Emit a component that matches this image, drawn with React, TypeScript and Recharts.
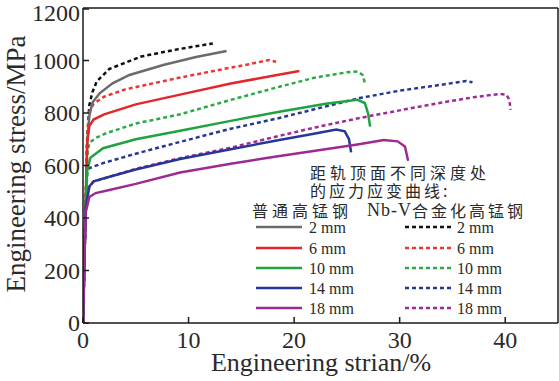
import { Customized, Line, LineChart, ReferenceLine, XAxis, YAxis } from "recharts";

const SERIF = "'Liberation Serif', 'Times New Roman', serif";
const CJK = "'Noto Sans CJK SC', sans-serif";
const AXIS = "#1a1a1a";
const TEXT = "#2a2a2a";

const xTicks = [0, 10, 20, 30, 40];
const yTicks = [0, 200, 400, 600, 800, 1000, 1200];
const depths = ["2 mm", "6 mm", "10 mm", "14 mm", "18 mm"];
const colors = ["#6b6b6b", "#e4262a", "#1fa23f", "#26379a", "#9c2a92"];
const dottedColors = ["#111111", "#ee3535", "#2aaa45", "#26379a", "#a02a95"];

// [strain %, stress MPa]
const normal2 = [[0, 0], [0.25, 450], [0.4, 680], [0.6, 790], [0.9, 840], [1.6, 876], [2.8, 913], [4.4, 945], [7.6, 983], [10.7, 1013], [13.6, 1036]];
const normal6 = [[0, 0], [0.25, 450], [0.4, 690], [0.6, 750], [1, 775], [2, 795], [5, 833], [9.2, 870], [14, 912], [18, 942], [20.5, 960]];
const normal10 = [[0, 0], [0.25, 450], [0.4, 580], [0.7, 630], [1.9, 666], [5, 700], [9.2, 732], [14, 770], [18.6, 805], [23, 835], [26, 850], [26.7, 838], [27, 800], [27.2, 748]];
const normal14 = [[0, 0], [0.25, 440], [0.6, 520], [1, 540], [2.5, 557], [5, 585], [9.2, 625], [14, 662], [18.6, 697], [22, 722], [24, 737], [24.8, 730], [25.2, 700], [25.4, 650]];
const normal18 = [[0, 0], [0.25, 420], [0.6, 480], [1.2, 495], [2.5, 507], [5, 530], [9.2, 573], [14, 607], [18, 632], [22, 656], [26, 680], [28.5, 697], [29.8, 692], [30.5, 672], [30.8, 618]];

const nbv2 = [[0, 0], [0.25, 450], [0.4, 700], [0.6, 830], [0.9, 880], [1.3, 920], [2.5, 968], [5.5, 1015], [9, 1043], [12.3, 1065]];
const nbv6 = [[0, 0], [0.25, 450], [0.4, 720], [0.6, 805], [1, 835], [2, 862], [4, 890], [9.2, 935], [13, 965], [16, 988], [17.6, 1002], [18.3, 995]];
const nbv10 = [[0, 0], [0.25, 450], [0.4, 640], [0.6, 686], [1.2, 705], [2.2, 723], [5, 760], [9.2, 795], [14, 850], [18.6, 900], [22, 935], [25, 955], [26, 958], [26.5, 945], [26.7, 915]];
const nbv14 = [[0, 0], [0.25, 450], [0.4, 570], [0.6, 590], [1.9, 609], [5, 645], [9.2, 690], [14, 740], [18.6, 781], [22, 815], [26.2, 857], [30, 885], [34, 908], [36.3, 922], [36.9, 917]];
const nbv18 = [[0, 0], [0.25, 440], [0.6, 520], [1, 538], [2.5, 557], [5, 587], [9.2, 628], [14, 668], [18.6, 713], [22, 745], [26.2, 781], [30, 810], [34, 840], [37, 860], [39.5, 873], [40.1, 870], [40.4, 850], [40.5, 812]];

const normalSeries = [normal2, normal6, normal10, normal14, normal18];
const nbvSeries = [nbv2, nbv6, nbv10, nbv14, nbv18];

const toPoints = (pairs: number[][]) => pairs.map(([x, y]) => ({ x, y }));

function XTick({ x, y, payload }: any) {
  return (
    <g>
      <line x1={x} y1={y} x2={x} y2={y - 6} stroke={AXIS} strokeWidth={1.5} />
      <text x={x} y={y + 25} textAnchor="middle" fontSize={24} fill={TEXT} fontFamily={SERIF}>
        {payload.value}
      </text>
    </g>
  );
}

function YTick({ x, y, payload }: any) {
  // the top label sits a little lower so it stays on the page
  const ty = Math.max(y, 13);
  return (
    <g>
      <line x1={x} y1={y} x2={x + 6} y2={y} stroke={AXIS} strokeWidth={1.5} />
      <text x={x - 3} y={ty} textAnchor="end" dominantBaseline="central" fontSize={24} fill={TEXT} fontFamily={SERIF}>
        {payload.value}
      </text>
    </g>
  );
}

function LegendBlock() {
  const rows = [227, 248, 268, 288, 308];
  return (
    <g fontFamily={SERIF} fill={TEXT}>
      <text x={310} y={172} dominantBaseline="central" fontSize={16} fontFamily={CJK} letterSpacing={4}>
        距轨顶面不同深度处
      </text>
      <text x={310} y={190} dominantBaseline="central" fontSize={16} fontFamily={CJK} letterSpacing={3}>
        的应力应变曲线:
      </text>
      <text x={252} y={210} dominantBaseline="central" fontSize={16} fontFamily={CJK} letterSpacing={4}>
        普通高锰钢
      </text>
      <text x={367} y={210} dominantBaseline="central" fontSize={16} letterSpacing={1}>
        <tspan fontFamily={SERIF} fontSize={18}>Nb-V</tspan>
        <tspan fontFamily={CJK} letterSpacing={3}>合金化高锰钢</tspan>
      </text>
      {rows.map((ry, i) => (
        <g key={depths[i]}>
          <line x1={256} y1={ry} x2={302} y2={ry} stroke={colors[i]} strokeWidth={2.5} />
          <text x={309} y={ry} dominantBaseline="central" fontSize={16}>
            {depths[i]}
          </text>
          <line x1={405} y1={ry} x2={451} y2={ry} stroke={dottedColors[i]} strokeWidth={2.5} strokeDasharray="4 3" />
          <text x={457} y={ry} dominantBaseline="central" fontSize={16}>
            {depths[i]}
          </text>
        </g>
      ))}
    </g>
  );
}

export default function App() {
  return (
    <div style={{ position: "fixed", left: 0, top: 0, width: 559, height: 381, background: "#fff" }}>
      <LineChart width={559} height={381} margin={{ top: 8, right: 1, bottom: 0, left: 0 }}>
        <XAxis
          type="number"
          dataKey="x"
          domain={[0, 45]}
          ticks={xTicks}
          tick={<XTick />}
          tickSize={0}
          tickMargin={0}
          height={58}
          stroke={AXIS}
          strokeWidth={1.5}
          allowDataOverflow
          label={{
            content: () => (
              <text x={321} y={371} textAnchor="middle" fontSize={26} fill={TEXT} fontFamily={SERIF}>
                Engineering strian/%
              </text>
            ),
          }}
        />
        <YAxis
          type="number"
          dataKey="y"
          domain={[0, 1200]}
          ticks={yTicks}
          tick={<YTick />}
          tickSize={0}
          tickMargin={0}
          width={83}
          stroke={AXIS}
          strokeWidth={1.5}
          allowDataOverflow
          label={{
            content: () => (
              <text
                x={16}
                y={164}
                transform="rotate(-90 16 164)"
                textAnchor="middle"
                dominantBaseline="central"
                fontSize={27}
                fill={TEXT}
                fontFamily={SERIF}
              >
                Engineering stress/MPa
              </text>
            ),
          }}
        />
        <ReferenceLine y={1200} stroke={AXIS} strokeWidth={1.5} />
        <ReferenceLine x={45} stroke={AXIS} strokeWidth={1.5} />
        {nbvSeries.map((s, i) => (
          <Line
            key={`nbv-${i}`}
            data={toPoints(s)}
            dataKey="y"
            type="linear"
            stroke={dottedColors[i]}
            strokeWidth={2.5}
            strokeDasharray="4 3"
            dot={false}
            isAnimationActive={false}
          />
        ))}
        {normalSeries.map((s, i) => (
          <Line
            key={`normal-${i}`}
            data={toPoints(s)}
            dataKey="y"
            type="linear"
            stroke={colors[i]}
            strokeWidth={2.5}
            dot={false}
            isAnimationActive={false}
          />
        ))}
        <Customized component={LegendBlock} />
      </LineChart>
    </div>
  );
}
